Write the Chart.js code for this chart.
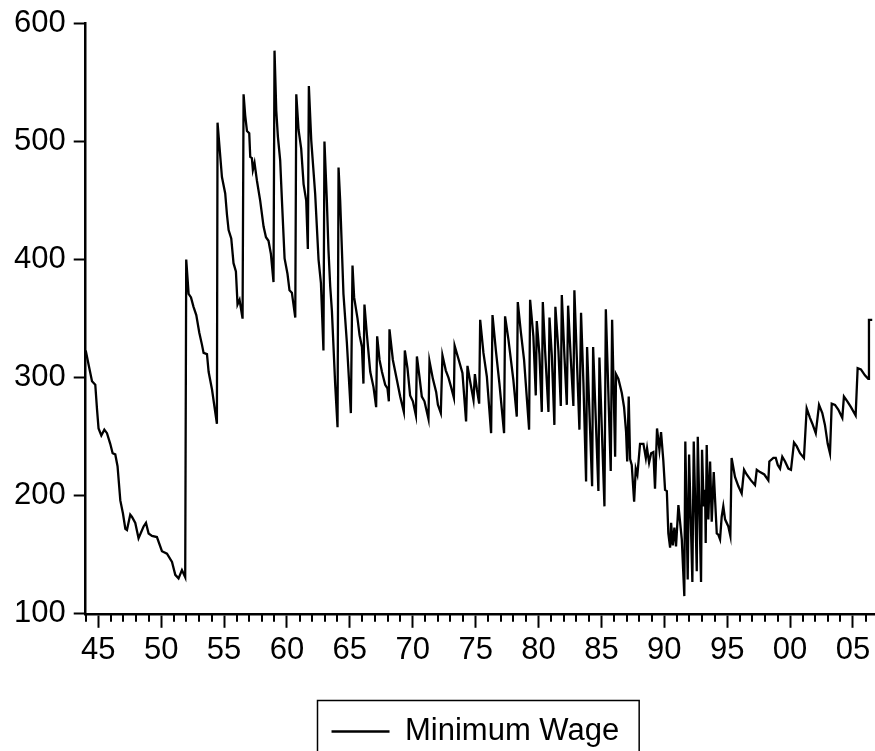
<!DOCTYPE html>
<html>
<head>
<meta charset="utf-8">
<script src="https://cdn.jsdelivr.net/npm/chart.js@4.4.0/dist/chart.umd.min.js"></script>
<style>
  html, body { margin: 0; padding: 0; background: #fff; }
</style>
</head>
<body>
<canvas id="myChart" width="875" height="751"></canvas>
<script>
const years = [
    1944.00, 1944.23, 1944.50, 1944.76, 1944.90, 1945.02, 1945.24, 1945.48, 1945.69, 1945.95,
    1946.14, 1946.35, 1946.53, 1946.75, 1946.96, 1947.15, 1947.28, 1947.54, 1947.68, 1947.94,
    1948.20, 1948.60, 1948.79, 1949.00, 1949.27, 1949.66, 1950.06, 1950.46, 1950.86, 1951.12,
    1951.38, 1951.65, 1951.91, 1951.99,
    1952.18, 1952.37, 1952.57, 1952.79, 1953.03, 1953.24, 1953.37, 1953.64, 1953.77, 1954.04, 1954.43, 1954.48,
    1954.83, 1955.09, 1955.23, 1955.36, 1955.57, 1955.75, 1955.94, 1956.07, 1956.23, 1956.47, 1956.55,
    1956.68, 1956.82, 1957.00, 1957.08, 1957.21, 1957.29, 1957.42, 1957.61, 1957.87, 1958.14,
    1958.33, 1958.53, 1958.72, 1958.93, 1959.01,
    1959.15, 1959.28, 1959.46, 1959.60, 1959.81, 1960.04, 1960.20, 1960.39, 1960.66, 1960.74,
    1960.92, 1961.13, 1961.32, 1961.53, 1961.66, 1961.74,
    1961.93, 1962.24, 1962.51, 1962.70, 1962.90, 1962.98,
    1963.17, 1963.30, 1963.44, 1963.57, 1963.83, 1964.02, 1964.10,
    1964.23, 1964.49, 1964.76, 1965.08, 1965.21,
    1965.34, 1965.61, 1965.77, 1965.96, 1966.08, 1966.16, 1966.35, 1966.62, 1966.88, 1967.09,
    1967.17, 1967.36, 1967.55, 1967.81, 1967.99, 1968.10, 1968.15, 1968.42, 1968.74, 1969.00,
    1969.29, 1969.37, 1969.58, 1969.79, 1970.01, 1970.25, 1970.33, 1970.53, 1970.72, 1970.93,
    1971.25, 1971.33, 1971.60, 1971.86, 1972.00, 1972.23, 1972.36, 1972.63, 1972.84, 1973.05,
    1973.27, 1973.33, 1973.63, 1973.95, 1974.24, 1974.35, 1974.56, 1974.83, 1974.94, 1975.10,
    1975.28, 1975.36, 1975.62, 1975.89, 1976.23, 1976.34, 1976.61, 1976.89, 1977.26, 1977.34,
    1977.61, 1978.00, 1978.27, 1978.35, 1978.59, 1978.85, 1979.25, 1979.33, 1979.59, 1979.78,
    1979.86, 1980.07, 1980.26, 1980.34, 1980.52, 1980.79, 1980.87, 1981.06, 1981.26, 1981.34,
    1981.58, 1981.77, 1981.85, 1982.06, 1982.25, 1982.35, 1982.57, 1982.77, 1982.85, 1983.04,
    1983.25, 1983.38, 1983.57, 1983.78, 1983.86, 1984.26, 1984.34, 1984.76, 1984.84, 1985.24,
    1985.35, 1985.74, 1985.85, 1986.09, 1986.16, 1986.35, 1986.62, 1986.80, 1986.96, 1987.05,
    1987.17, 1987.28, 1987.41, 1987.60, 1987.73, 1987.86, 1988.07, 1988.34, 1988.53, 1988.63,
    1988.79, 1988.95, 1989.13, 1989.26, 1989.42, 1989.61, 1989.74, 1989.92, 1990.06, 1990.20,
    1990.32, 1990.46, 1990.54, 1990.67, 1990.80, 1990.93, 1991.12, 1991.39, 1991.59, 1991.67,
    1991.86, 1991.97, 1992.23, 1992.34, 1992.58, 1992.66, 1992.92, 1993.00, 1993.13, 1993.24,
    1993.29, 1993.37, 1993.50, 1993.64, 1993.77, 1993.93, 1994.03, 1994.17, 1994.29, 1994.43,
    1994.56, 1994.69, 1994.83, 1995.09, 1995.25, 1995.35, 1995.62, 1995.89, 1996.15, 1996.34,
    1996.55, 1996.89, 1997.21, 1997.35, 1997.61, 1997.95, 1998.27, 1998.35, 1998.67, 1998.86,
    1999.02, 1999.20, 1999.38, 1999.60, 1999.86, 2000.07, 2000.31, 2000.52, 2000.79, 2001.10,
    2001.32, 2001.58, 2001.77, 2002.04, 2002.30, 2002.56, 2002.77, 2002.99, 2003.17, 2003.31,
    2003.57, 2003.83, 2004.15, 2004.28, 2004.55, 2004.84, 2005.21, 2005.37, 2005.63, 2005.95,
    2006.21, 2006.27, 2006.53
]
const wage = [
    323, 311, 297, 294, 273, 257, 251, 256, 253, 244,
    236, 235, 225, 196, 185, 172, 171, 184, 182, 177,
    164, 174, 177, 168, 166, 165, 153, 151, 144, 133,
    130, 137, 131, 400,
    371, 368, 360, 353, 338, 328, 321, 320, 305, 290, 261, 516,
    470, 456, 438, 425, 418, 397, 390, 362, 366, 350, 540,
    522, 509, 507, 487, 486, 476, 482, 467, 450, 428,
    419, 416, 405, 381, 577,
    526, 504, 484, 450, 401, 388, 374, 372, 351, 540,
    510, 494, 464, 450, 409, 547,
    501, 456, 400, 380, 323, 500,
    450, 408, 377, 357, 295, 258, 478,
    450, 371, 330, 270, 395,
    368, 350, 336, 326, 295, 362, 337, 305, 292, 275,
    335, 315, 305, 294, 291, 280, 341, 315, 298, 284,
    271, 323, 308, 285, 280, 268, 318, 301, 284, 280,
    265, 314, 299, 288, 277, 270, 319, 306, 300, 292,
    283, 327, 316, 304, 263, 310, 297, 281, 303, 290,
    278, 349, 321, 301, 253, 353, 323, 295, 253, 352,
    332, 298, 267, 364, 339, 315, 256, 366, 335, 285,
    348, 320, 271, 364, 323, 271, 351, 318, 260, 360,
    323, 276, 370, 318, 277, 361, 315, 276, 374, 318,
    256, 355, 295, 212, 326, 208, 326, 204, 317, 191,
    358, 221, 349, 233, 303, 299, 287, 275, 254, 229,
    284, 231, 226, 195, 223, 218, 244, 244, 232, 240,
    228, 236, 237, 206, 257, 239, 254, 230, 205, 204,
    168, 156, 177, 158, 173, 157, 192, 163, 115, 246,
    129, 235, 127, 246, 136, 250, 127, 239, 191, 205,
    160, 243, 180, 229, 178, 220, 198, 168, 167, 163,
    182, 191, 180, 174, 166, 232, 216, 208, 202, 222,
    218, 213, 209, 222, 220, 218, 213, 229, 232, 232,
    226, 223, 233, 229, 223, 222, 245, 242, 236, 232,
    274, 266, 261, 253, 277, 270, 260, 244, 236, 278,
    277, 273, 266, 284, 280, 275, 268, 308, 307, 302,
    299, 349, 349
]
const labelYears = [1945, 1950, 1955, 1960, 1965, 1970, 1975, 1980, 1985, 1990, 1995, 2000, 2005]
const yTicks = [100, 200, 300, 400, 500, 600]

Chart.defaults.font.family = "'Liberation Sans', Arial, Helvetica, sans-serif"
Chart.defaults.font.size = 31
Chart.defaults.color = '#000'

let points = []
for (let i = 0; i < years.length; i++) {
    points.push({ x: years[i], y: wage[i] })
}

// short ticks for the years between the labelled ones, and the frame round the legend
const extraBits = {
    id: 'extraBits',
    afterLayout(chart) {
        // legend sits a little left of the plot centre in the original
        chart.legend.left -= 5
        chart.legend.right -= 5
    },
    afterDraw(chart) {
        const c = chart.ctx
        const xs = chart.scales.x
        const bottom = chart.chartArea.bottom
        c.save()
        c.strokeStyle = '#000'
        c.lineWidth = 2
        c.beginPath()
        xs.ticks.forEach(t => {
            if (labelYears.includes(t.value)) return
            const px = Math.round(xs.getPixelForValue(t.value))
            c.moveTo(px, bottom)
            c.lineTo(px, bottom + 8)
        })
        c.stroke()
        const hit = chart.legend.legendHitBoxes[0]
        if (hit) {
            c.lineWidth = 1.5
            c.strokeRect(Math.round(hit.left - 15) + 0.5, Math.round(hit.top - 16) + 0.5, hit.width + 34, 200)
        }
        c.restore()
    }
}

new Chart(document.getElementById('myChart'), {
    type: 'line',
    data: {
        datasets: [{
            label: 'Minimum Wage',
            data: points,
            borderColor: '#000',
            backgroundColor: '#000',
            borderWidth: 2.3,
            pointRadius: 0,
            tension: 0
        }]
    },
    options: {
        responsive: false,
        animation: false,
        layout: { padding: { left: 6, top: 23, right: 0, bottom: -6 } },
        scales: {
            x: {
                type: 'linear',
                min: 1944,
                max: 2006.75,
                border: { display: true, color: '#000', width: 2.5 },
                grid: {
                    drawOnChartArea: false,
                    tickLength: 14,
                    tickWidth: 2,
                    tickColor: ctx => labelYears.includes(ctx.tick.value) ? '#000' : 'rgba(0,0,0,0)'
                },
                ticks: {
                    stepSize: 1,
                    autoSkip: false,
                    includeBounds: false,
                    maxRotation: 0,
                    padding: 4,
                    callback: v => labelYears.includes(v) ? String(v % 100).padStart(2, '0') : ''
                },
                afterFit: scale => { scale.height += 37 }
            },
            y: {
                min: 100,
                max: 600,
                afterBuildTicks: axis => { axis.ticks = yTicks.map(v => ({ value: v })) },
                border: { display: true, color: '#000', width: 2.5 },
                grid: { drawOnChartArea: false, tickLength: 12, tickWidth: 2, tickColor: '#000' },
                ticks: { padding: 8, font: { size: 31, lineHeight: 1 } }
            }
        },
        plugins: {
            legend: {
                position: 'bottom',
                fullSize: false,
                labels: {
                    usePointStyle: true,
                    pointStyle: 'line',
                    pointStyleWidth: 58,
                    boxHeight: 31,
                    padding: 6
                }
            },
            tooltip: { enabled: false }
        }
    },
    plugins: [extraBits]
})
</script>
</body>
</html>
